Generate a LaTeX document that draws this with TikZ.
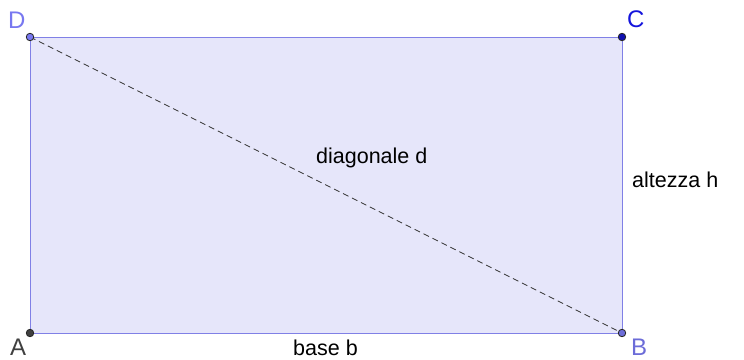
\documentclass[tikz,border=0pt]{standalone}
\usepackage{fontspec}
\setmainfont{Liberation Sans}
\begin{document}
\begin{tikzpicture}[x=1pt,y=-1pt,
  lbl/.style={anchor=base west,inner sep=0pt,font=\fontsize{21.5}{24}\selectfont},
  plbl/.style={anchor=base west,inner sep=0pt,font=\fontsize{24}{26}\selectfont},
  pt/.style={circle,draw=black!85,line width=0.8pt,inner sep=0pt,minimum size=7.5pt}]
\definecolor{fillc}{RGB}{230,230,250}
\definecolor{edgec}{RGB}{128,128,230}
\definecolor{lightb}{RGB}{120,120,240}
\definecolor{darkb}{RGB}{20,20,220}
\definecolor{grayd}{RGB}{64,64,64}
\useasboundingbox (0,0) rectangle (744,359);
\coordinate (A) at (30,333);
\coordinate (B) at (622,333);
\coordinate (C) at (622,37);
\coordinate (D) at (30,37);
\filldraw[fill=fillc,draw=edgec,line width=1pt] (A) -- (B) -- (C) -- (D) -- cycle;
\draw[dashed,dash pattern=on 6pt off 4pt,black!80,line width=0.8pt] (D) -- (B);
\node[pt,fill=lightb] (nD) at (D) {};
\node[pt,fill=darkb!80!black] (nC) at (C) {};
\node[pt,fill=grayd] (nA) at (A) {};
\node[pt,fill=lightb!90!black] (nB) at (B) {};
\node[plbl,text=lightb] (tD) at (8,28.5) {D};
\node[plbl,text=darkb] (tC) at (627,27) {C};
\node[plbl,text=grayd] (tA) at (10,355) {A};
\node[plbl,text=lightb!90!black] (tB) at (631,355) {B};
\node[lbl] (td) at (316,163) {diagonale d};
\node[lbl] (th) at (632,187) {altezza h};
\node[lbl] (tb) at (293,355) {base b};
\end{tikzpicture}
\end{document}
